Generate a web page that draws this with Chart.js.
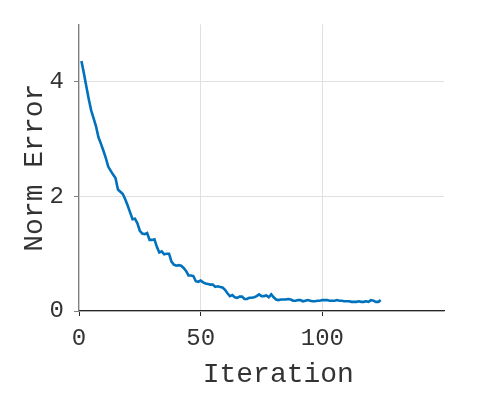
<!DOCTYPE html>
<html>
<head>
<meta charset="utf-8">
<script src="https://cdn.jsdelivr.net/npm/chart.js@4"></script>
<style>
  html, body { margin: 0; padding: 0; background: #fff; }
</style>
</head>
<body>
<canvas id="chart" width="486" height="401"></canvas>
<script>
// iteration number and norm error
const iterations = [];
for (let i = 1; i <= 124; i++) iterations.push(i);

const normError = [
  4.36, 4.15, 3.92, 3.70, 3.50, 3.36, 3.22, 3.03, 2.92, 2.80,
  2.67, 2.52, 2.45, 2.38, 2.32, 2.12, 2.08, 2.04, 1.95, 1.84,
  1.72, 1.60, 1.61, 1.53, 1.40, 1.35, 1.34, 1.36, 1.24, 1.24,
  1.25, 1.12, 1.02, 1.04, 0.99, 1.00, 1.00, 0.86, 0.81, 0.79,
  0.80, 0.79, 0.75, 0.70, 0.62, 0.62, 0.61, 0.52, 0.51, 0.53,
  0.50, 0.48, 0.47, 0.46, 0.46, 0.42, 0.43, 0.42, 0.41, 0.37,
  0.31, 0.26, 0.28, 0.24, 0.23, 0.25, 0.25, 0.21, 0.21, 0.23,
  0.23, 0.24, 0.26, 0.29, 0.26, 0.26, 0.27, 0.24, 0.29, 0.24,
  0.20, 0.19, 0.20, 0.20, 0.20, 0.21, 0.20, 0.18, 0.18, 0.19,
  0.19, 0.17, 0.18, 0.19, 0.18, 0.17, 0.17, 0.18, 0.18, 0.19,
  0.19, 0.19, 0.18, 0.18, 0.18, 0.19, 0.18, 0.18, 0.17, 0.17,
  0.17, 0.16, 0.16, 0.16, 0.17, 0.16, 0.16, 0.17, 0.16, 0.19,
  0.18, 0.16, 0.16, 0.19
];

const xTicks = [0, 50, 100];
const yTicks = [0, 2, 4];

const mono = 'Liberation Mono, Courier New, monospace';

new Chart(document.getElementById('chart'), {
  type: 'line',
  data: {
    datasets: [{
      data: iterations.map((x, i) => ({ x: x, y: normError[i] })),
      borderColor: '#0072BD',
      borderWidth: 2.6,
      pointRadius: 0,
      tension: 0,
      fill: false
    }]
  },
  options: {
    responsive: false,
    animation: false,
    layout: { padding: { left: 0, right: 42, top: 22, bottom: 0 } },
    plugins: { legend: { display: false }, tooltip: { enabled: false } },
    scales: {
      x: {
        type: 'linear',
        min: 0,
        max: 150,
        afterBuildTicks: s => { s.ticks = xTicks.map(v => ({ value: v })); },
        afterFit: s => { s.height = 90; },
        grid: { color: '#e0e0e0', tickColor: '#262626', tickLength: 5, lineWidth: 1 },
        border: { color: '#262626', width: 1.2 },
        ticks: { color: '#333', font: { family: mono, size: 24 }, padding: 8, maxRotation: 0 },
        title: {
          // leading spaces nudge the centred title right, as in the original
          display: true, text: '  Iteration', color: '#333',
          font: { family: mono, size: 28 }, padding: { top: 0, bottom: 10 }
        }
      },
      y: {
        min: 0,
        max: 5,
        afterBuildTicks: s => { s.ticks = yTicks.map(v => ({ value: v })); },
        afterFit: s => { s.width = 79; },
        grid: { color: '#e0e0e0', tickColor: '#808080', tickLength: 5, lineWidth: 1 },
        border: { color: '#808080', width: 1.2 },
        ticks: { color: '#333', font: { family: mono, size: 24 }, padding: 10 },
        title: {
          display: true, text: 'Norm Error', color: '#333',
          font: { family: mono, size: 28 }, padding: { top: 18, bottom: 0 }
        }
      }
    }
  }
});
</script>
</body>
</html>
